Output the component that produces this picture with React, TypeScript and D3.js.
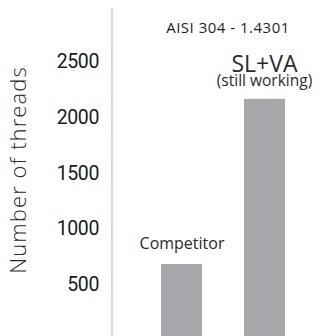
import React from "react";
import * as d3 from "d3";

const categories = ["Competitor", "SL+VA"];
const values = [690, 2170];
const tickValues = [500, 1000, 1500, 2000, 2500];
const title = "AISI 304 - 1.4301";
const yLabel = "Number of threads";
const subLabel = "(still working)";

export default function App() {
  const W = 334, H = 336;
  const y = d3.scaleLinear().domain([0, 2500]).range([341, 62]);
  const bw = 41;
  const xs = [181.5, 264.5];
  return (
    <svg width={W} height={H} style={{ position: "absolute", left: 0, top: 0 }}>
      <rect width={W} height={H} fill="#fff" />
      <line x1={112} x2={112} y1={8} y2={H} stroke="#c9c9c9" strokeWidth={1.5} />
      {tickValues.map((t) => (
        <text key={t} x={99} y={y(t) - 1} dy="0.36em" textAnchor="end" fontFamily="Roboto" fontWeight={400} fontSize={19.5} fill="#1a1a1a" letterSpacing={-0.4}>
          {t}
        </text>
      ))}
      <text transform={`translate(26,170) rotate(-90)`} textAnchor="middle" fontFamily="Open Sans" fontWeight={300} fontSize={22} letterSpacing={1.1} fill="#2a2a2a">
        {yLabel}
      </text>
      <text x={228} y={33} textAnchor="middle" fontFamily="Open Sans" fontSize={15} letterSpacing={0.5} fill="#1e1e1e">{title}</text>
      {categories.map((c, i) => (
        <rect key={c} x={xs[i] - bw / 2} y={y(values[i])} width={bw} height={y(0) - y(values[i])} fill="#a7a8ab" />
      ))}
      <text x={xs[0] + 0.5} y={249} textAnchor="middle" fontFamily="Open Sans" fontSize={16} fill="#2a2a2a">{categories[0]}</text>
      <text x={xs[1]} y={72} textAnchor="middle" fontFamily="Open Sans" fontSize={23} fill="#2a2a2a">{categories[1]}</text>
      <text x={xs[1]} y={86} textAnchor="middle" fontFamily="Open Sans" fontSize={15.5} fill="#2a2a2a">{subLabel}</text>
    </svg>
  );
}
